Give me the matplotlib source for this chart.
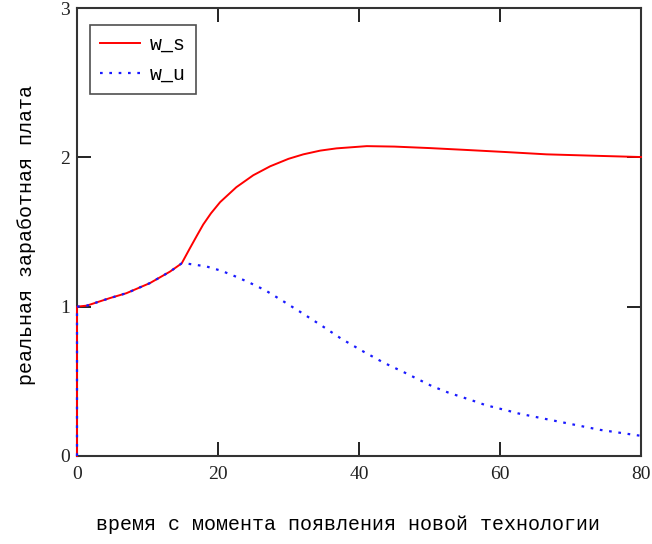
import matplotlib
matplotlib.use("Agg")
import matplotlib.pyplot as plt

# data
t_s = [0, 0, 1.4, 4.7, 7.0, 10.35, 13.2, 14.85, 16.0, 17.0, 17.9, 19.0, 20.3, 22.6, 25.0, 27.4,
       30.0, 32.1, 34.5, 36.8, 41.1, 45.0, 50.0, 55.0, 61.0, 66.6, 74.6, 80.0]
w_s = [0, 1.0, 1.007, 1.058, 1.09, 1.158, 1.235, 1.29, 1.39, 1.475, 1.55, 1.625, 1.70, 1.80,
       1.88, 1.94, 1.99, 2.02, 2.045, 2.06, 2.075, 2.072, 2.062, 2.05, 2.035, 2.02, 2.009, 2.002]

t_u = [0, 0, 1.4, 4.7, 7.0, 10.35, 13.2, 14.85, 15.8, 18.3, 20.5, 22.6, 24.5, 26.7, 29.3,
       31.9, 34.7, 37.5, 40.6, 43.5, 46.5, 50.3, 52.7, 56.0, 58.0, 61.0, 62.6, 67.1,
       74.2, 80.0]
w_u = [0, 1.0, 1.007, 1.058, 1.09, 1.158, 1.235, 1.29, 1.287, 1.27, 1.24, 1.20, 1.16, 1.11,
       1.035, 0.958, 0.873, 0.785, 0.70, 0.625, 0.558, 0.469, 0.424, 0.373, 0.34, 0.305,
       0.285, 0.242, 0.175, 0.135]

x_ticks = [0, 20, 40, 60, 80]
y_ticks = [0, 1, 2, 3]
x_label = "время с момента появления новой технологии"
y_label = "реальная заработная плата"

mono = "Liberation Mono"
serif = "Liberation Serif"

fig = plt.figure(figsize=(6.52, 5.44), dpi=100)
ax = fig.add_axes([77/652, 1 - 456/544, (641-77)/652, (456-8)/544])
ax.plot(t_s, w_s, color="#ff0000", lw=1.4, label="w_s", zorder=5, clip_on=False)
ax.plot(t_u, w_u, color="#1a1aff", lw=1.6, linestyle=(0, (1.2, 3.0)), label="w_u",
        zorder=6, clip_on=False)

ax.set_xlim(0, 80)
ax.set_ylim(0, 3)
ax.set_xticks(x_ticks)
ax.set_yticks(y_ticks)
ax.tick_params(direction="in", length=10, width=1.4, top=True, right=True,
               labelsize=14, colors="#222222")
ax.tick_params(axis="x", pad=7)
ax.tick_params(axis="y", pad=5)
for lab in ax.get_xticklabels() + ax.get_yticklabels():
    lab.set_fontfamily(serif)
for sp in ax.spines.values():
    sp.set_linewidth(1.5)
    sp.set_color("#333333")
    sp.set_zorder(2)

ax.set_xlabel(x_label, fontfamily=mono, fontsize=14.4)
ax.set_ylabel(y_label, fontfamily=mono, fontsize=14.4)
ax.xaxis.set_label_coords(0.5 - 11/564, -69/448)
ax.xaxis.label.set_va("center")
ax.yaxis.set_label_coords(-50/564, 0.493)
ax.yaxis.label.set_va("center")

leg = ax.legend(loc="upper left", bbox_to_anchor=(0.023, 0.963), frameon=True, fancybox=False,
                prop={"family": mono, "size": 14.4}, handlelength=2.0, handletextpad=0.5,
                borderpad=0.5, labelspacing=0.55, borderaxespad=0)
leg.get_frame().set_edgecolor("#222222")
leg.get_frame().set_linewidth(1.2)
leg.set_zorder(10)

fig.savefig("out.png", dpi=100)
